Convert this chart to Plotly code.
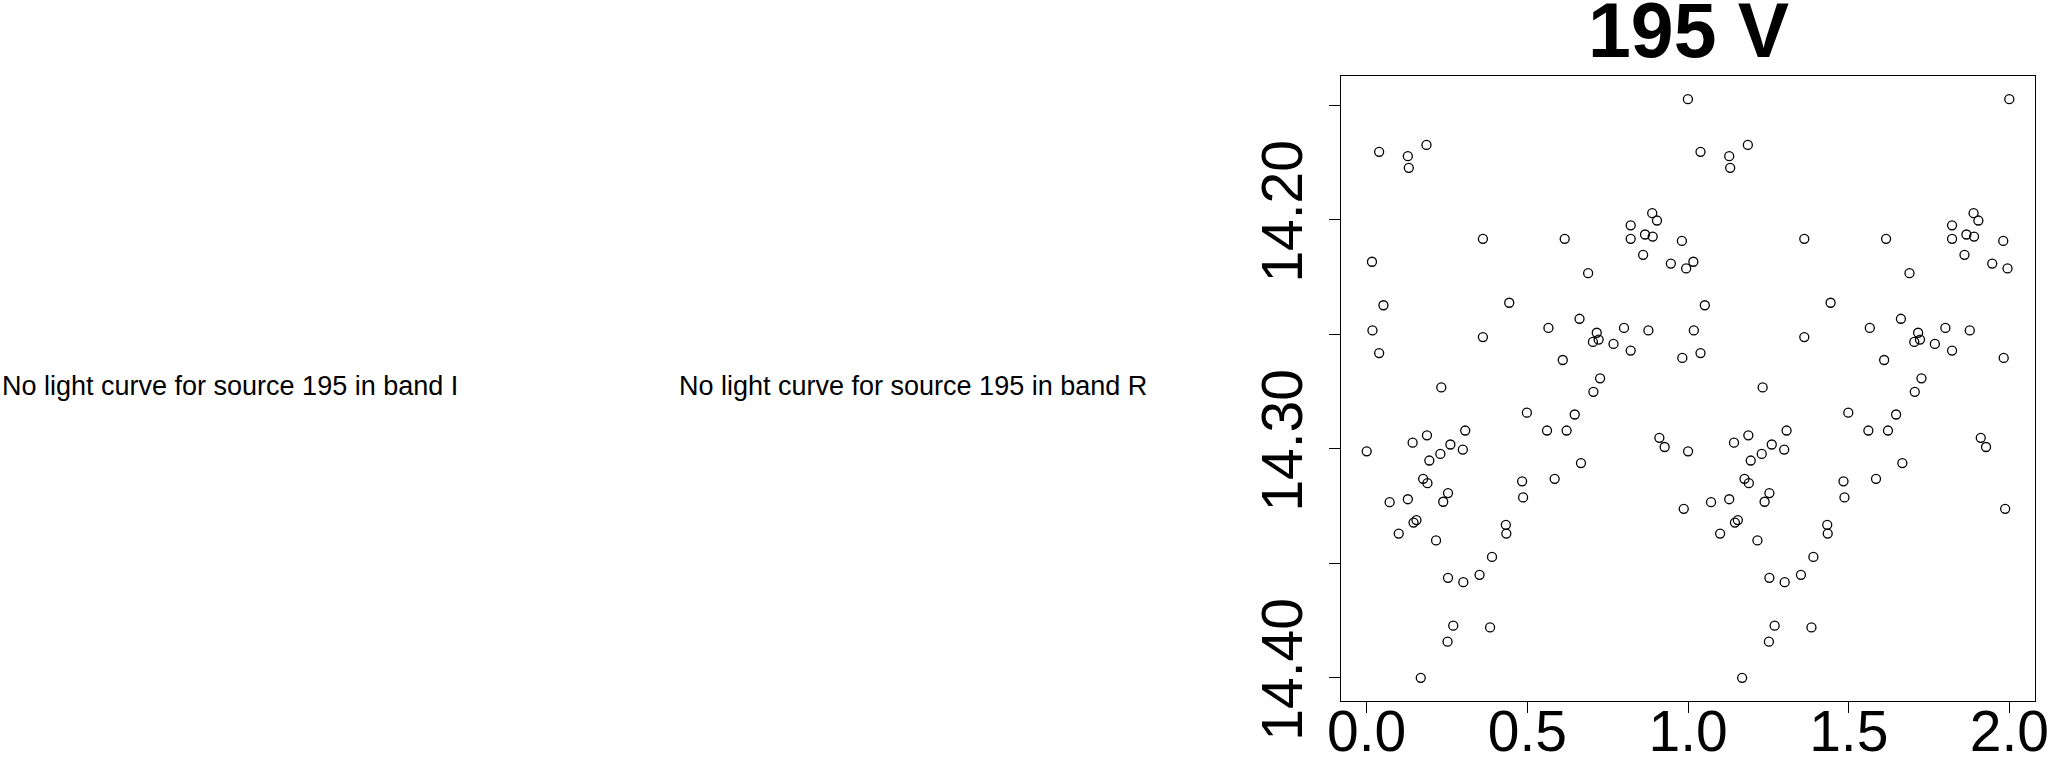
import plotly.graph_objects as go

# Phase-folded V-band light curve of source 195 (phase in [0,1), shown twice)
phase = [0.0000, 0.0164, 0.0179, 0.0387, 0.0387, 0.0521, 0.0714, 0.0997, 0.1280, 0.1310,
         0.1280, 0.1429, 0.1458, 0.1548, 0.1756, 0.1860, 0.1875, 0.1890, 0.1949, 0.2158,
         0.2292, 0.2321, 0.2381, 0.2530, 0.2515, 0.2530, 0.2604, 0.2693, 0.1682, 0.2991,
         0.3006, 0.3065, 0.3512, 0.3616, 0.3616, 0.3839, 0.3899, 0.4330, 0.4345, 0.4435,
         0.4836, 0.4866, 0.4985, 0.5610, 0.5655, 0.5848, 0.6101, 0.6161, 0.6220, 0.6473,
         0.6622, 0.6667, 0.6890, 0.7054, 0.7039, 0.7158, 0.7217, 0.7262, 0.7679, 0.8006,
         0.8214, 0.8214, 0.8214, 0.8601, 0.8661, 0.8765, 0.8884, 0.8899, 0.9033, 0.9107,
         0.9271, 0.9464, 0.9807, 0.9821, 0.9866, 0.9940, 0.9995]
mag = [14.3011, 14.2183, 14.2483, 14.1703, 14.2582, 14.2373, 14.3233, 14.3370, 14.1722, 14.1773,
       14.3220, 14.2973, 14.3322, 14.3311, 14.3131, 14.1673, 14.2941, 14.3150, 14.3051, 14.3400,
       14.3022, 14.2732, 14.3231, 14.3563, 14.3842, 14.3193, 14.2981, 14.3772, 14.4000, 14.3003,
       14.3582, 14.2920, 14.3550, 14.2083, 14.2512, 14.3780, 14.3472, 14.3332, 14.3370, 14.2362,
       14.3142, 14.3212, 14.2842, 14.2920, 14.2472, 14.3131, 14.2612, 14.2083, 14.2920, 14.2850,
       14.2432, 14.3062, 14.2233, 14.2751, 14.2533, 14.2493, 14.2523, 14.2692, 14.2542, 14.2472,
       14.2024, 14.2083, 14.2571, 14.2153, 14.2064, 14.2483, 14.1971, 14.2073, 14.2003, 14.2952,
       14.2992, 14.2191, 14.2092, 14.2603, 14.3262, 14.2212, 14.1473]

x_ticks = [0.0, 0.5, 1.0, 1.5, 2.0]
x_ticklabels = ["0.0", "0.5", "1.0", "1.5", "2.0"]
y_ticks = [14.15, 14.20, 14.25, 14.30, 14.35, 14.40]
y_ticklabels = ["", "14.20", "", "14.30", "", "14.40"]

title_text = "195 V"
missing_bands = ["I", "R"]
source_id = 195

xs = phase + [p + 1 for p in phase]
ys = mag + mag

# R-style 4% axis padding
xmin, xmax = min(xs), max(xs)
ymin, ymax = min(ys), max(ys)
xpad = 0.04 * (xmax - xmin)
ypad = 0.04 * (ymax - ymin)

W, H = 2050, 758
FONT = "Liberation Sans, Arial, Helvetica, sans-serif"

fig = go.Figure()
fig.add_trace(go.Scatter(
    x=xs, y=ys, mode="markers",
    marker=dict(symbol="circle-open", size=9, color="black", line=dict(width=1.3, color="black")),
    showlegend=False, hoverinfo="skip",
))

left, right, top, bottom = 1341, 2035, 76, 701

fig.update_layout(
    width=W, height=H,
    margin=dict(l=0, r=0, t=0, b=0),
    paper_bgcolor="white", plot_bgcolor="white",
    font=dict(family=FONT, color="black"),
    xaxis=dict(
        domain=[left / W, right / W],
        range=[xmin - xpad, xmax + xpad],
        tickvals=x_ticks, ticktext=x_ticklabels,
        ticks="outside", ticklen=11, tickwidth=1, tickcolor="black",
        showline=True, mirror=True, linecolor="black", linewidth=1,
        showgrid=False, zeroline=False,
        tickfont=dict(size=57, family=FONT, color="black"),
        ticklabelstandoff=-30,
        automargin=False,
    ),
    yaxis=dict(
        domain=[1 - bottom / H, 1 - top / H],
        range=[ymax + ypad, ymin - ypad],
        tickvals=y_ticks, ticktext=y_ticklabels,
        ticks="outside", ticklen=11, tickwidth=1, tickcolor="black",
        showline=True, mirror=True, linecolor="black", linewidth=1,
        showgrid=False, zeroline=False,
        tickangle=-90,
        tickfont=dict(size=57, family=FONT, color="black"),
        ticklabelstandoff=4,
        automargin=False,
    ),
)

fig.add_annotation(
    text=title_text, xref="paper", yref="paper",
    x=(left + right) / 2 / W, y=1 - 30 / H, xanchor="center", yanchor="middle",
    showarrow=False, font=dict(size=77, family=FONT, color="black", weight="bold"),
)

for i, band in enumerate(missing_bands):
    fig.add_annotation(
        text=f"No light curve for source {source_id} in band {band}",
        xref="paper", yref="paper",
        x=[0, 677][i] / W, y=1 - 386.5 / H, xanchor="left", yanchor="middle",
        showarrow=False, font=dict(size=27, family=FONT, color="black"),
    )

fig.write_html(
    "out.html",
    config={"displayModeBar": False},
    post_script="document.body.style.margin='0';document.body.style.padding='0';",
)
